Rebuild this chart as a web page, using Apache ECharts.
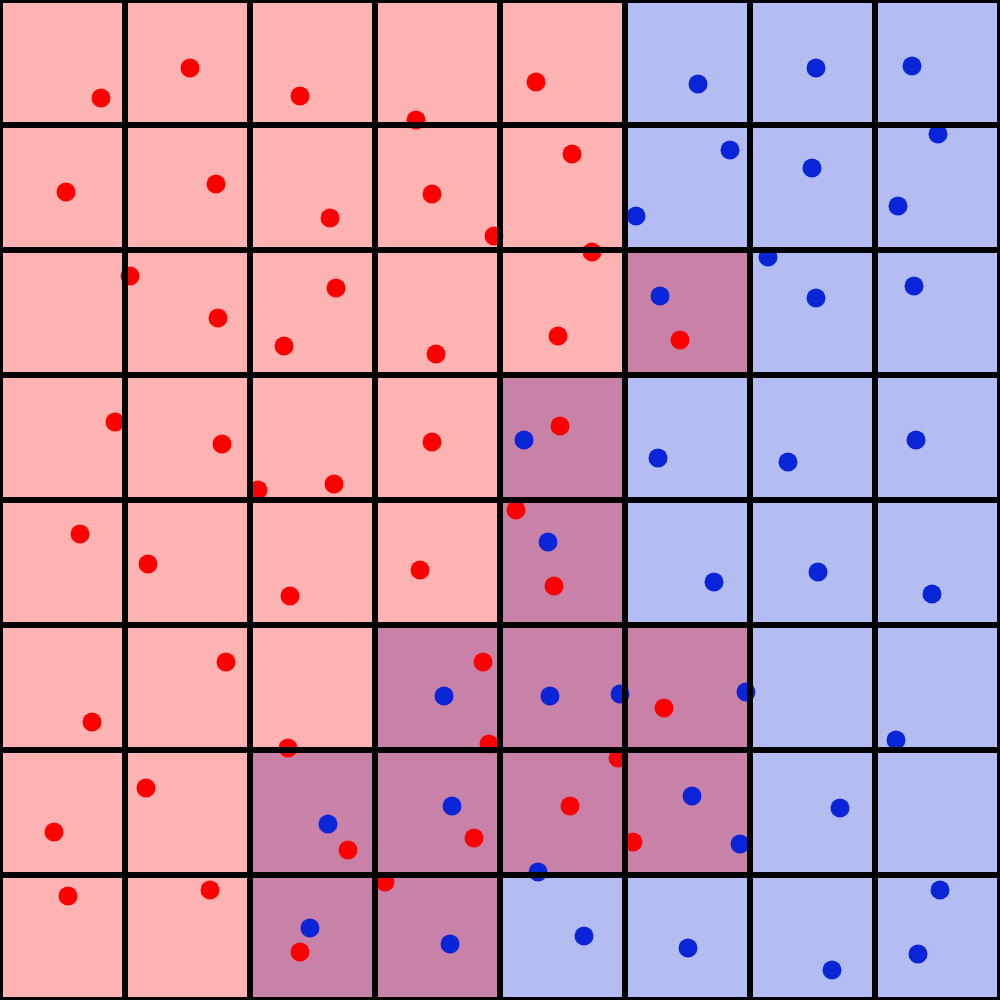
<!DOCTYPE html>
<html><head><meta charset="utf-8">
<script src="https://cdn.jsdelivr.net/npm/echarts@6/dist/echarts.min.js"></script>
<style>html,body{margin:0;padding:0;background:#fff}#c{width:1000px;height:1000px}</style>
</head><body><div id="c"></div>
<script>
// grid cell classes, row 0 = top; R = red, B = blue, M = mixed
const cellRows = [
  "RRRRRBBB",
  "RRRRRBBB",
  "RRRRRMBB",
  "RRRRMBBB",
  "RRRRMBBB",
  "RRRMMMBB",
  "RRMMMMBB",
  "RRMMBBBB"
];
const gridTicks = [0,125,250,375,500,625,750,875,1000];
const redPoints = [
  [101,98],[190,68],[300,96],[416,120],[536,82],
  [66,192],[216,184],[330,218],[432,194],[572,154],[494,236],
  [130,276],[218,318],[336,288],[284,346],[436,354],[592,252],[558,336],[680,340],
  [115,422],[222,444],[432,442],[334,484],[258,490],[560,426],
  [80,534],[148,564],[290,596],[420,570],[516,510],[554,586],
  [226,662],[92,722],[288,748],[483,662],[489,744],[664,708],
  [146,788],[54,832],[348,850],[474,838],[570,806],[618,758],[633,842],
  [68,896],[210,890],[385,882],[300,952]
];
const bluePoints = [
  [698,84],[816,68],[912,66],[730,150],[812,168],[938,134],[636,216],[898,206],
  [768,257],[660,296],[816,298],[914,286],
  [524,440],[658,458],[788,462],[916,440],
  [548,542],[714,582],[818,572],[932,594],
  [444,696],[550,696],[620,694],[746,692],[896,740],
  [452,806],[328,824],[692,796],[840,808],[740,844],[538,872],
  [310,928],[450,944],[584,936],[688,948],[832,970],[918,954],[940,890]
];
const cellColors = {R:'#ffb3b3', B:'#b4bdf2', M:'#c882a8'};

const cellData = [];
cellRows.forEach((row, r) => {
  row.split('').forEach((cls, c) => {
    cellData.push([gridTicks[c], gridTicks[r], gridTicks[c+1], gridTicks[r+1], cls]);
  });
});

const chart = echarts.init(document.getElementById('c'));
chart.setOption({
  animation: false,
  grid: {left: 0, right: 0, top: 0, bottom: 0},
  xAxis: {type: 'value', min: 0, max: 1000, show: false},
  yAxis: {type: 'value', min: 0, max: 1000, inverse: true, show: false},
  series: [
    {
      type: 'custom', z: 1, clip: false,
      data: cellData,
      renderItem: (params, api) => {
        const p0 = api.coord([api.value(0), api.value(1)]);
        const p1 = api.coord([api.value(2), api.value(3)]);
        return {type: 'rect', shape: {x: p0[0], y: p0[1], width: p1[0]-p0[0], height: p1[1]-p0[1]},
          style: {fill: cellColors[cellData[params.dataIndex][4]]}};
      }
    },
    {type: 'scatter', z: 2, data: redPoints, symbolSize: 19, itemStyle: {color: '#ff0000', opacity: 1}},
    {type: 'scatter', z: 2, data: bluePoints, symbolSize: 19, itemStyle: {color: '#0a24d8', opacity: 1}},
    {
      type: 'custom', z: 3, clip: false,
      data: gridTicks.map(t => [t]),
      renderItem: (params, api) => {
        const t = api.value(0);
        const a = api.coord([t, 0]), b = api.coord([t, 1000]);
        const c = api.coord([0, t]), d = api.coord([1000, t]);
        return {type: 'group', children: [
          {type: 'line', shape: {x1: a[0], y1: a[1], x2: b[0], y2: b[1]}, style: {stroke: '#000', lineWidth: 6}},
          {type: 'line', shape: {x1: c[0], y1: c[1], x2: d[0], y2: d[1]}, style: {stroke: '#000', lineWidth: 6}}
        ]};
      }
    }
  ]
});
</script></body></html>
